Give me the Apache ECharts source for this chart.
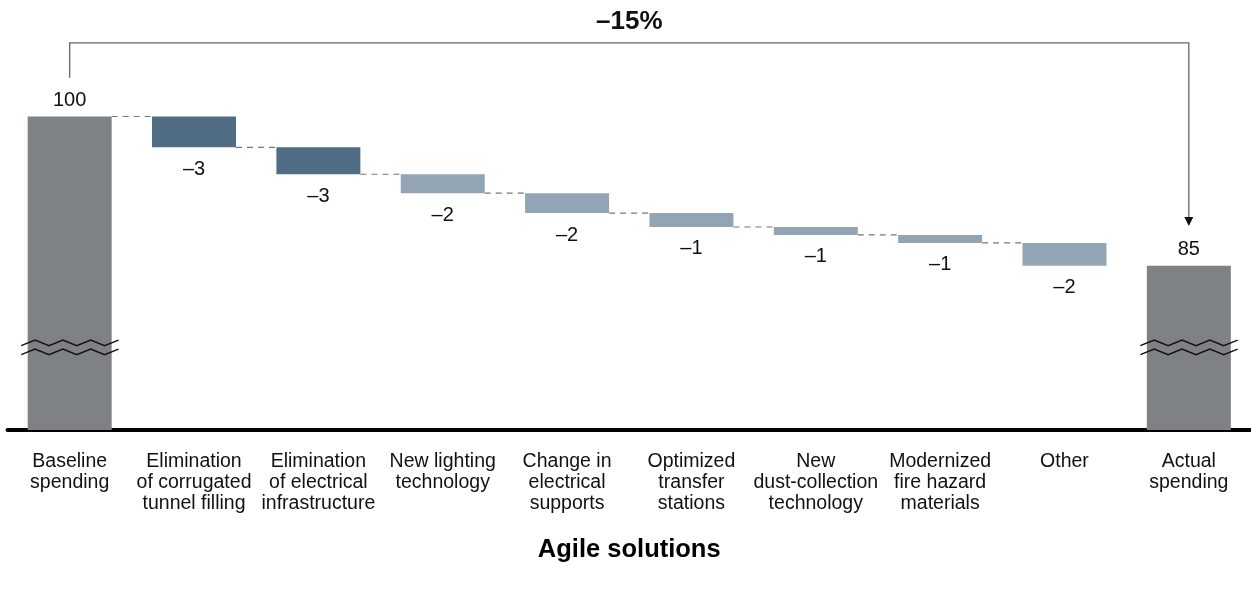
<!DOCTYPE html>
<html>
<head>
<meta charset="utf-8">
<script src="https://cdn.jsdelivr.net/npm/echarts@6/dist/echarts.min.js"></script>
<style>body{margin:0;background:#fff;}</style>
</head>
<body>
<div id="main" style="width:1251px;height:590px;"></div>
<script>
	// 数据
	var categories = [
		'Baseline\nspending',
		'Elimination\nof corrugated\ntunnel filling',
		'Elimination\nof electrical\ninfrastructure',
		'New lighting\ntechnology',
		'Change in\nelectrical\nsupports',
		'Optimized\ntransfer\nstations',
		'New\ndust-collection\ntechnology',
		'Modernized\nfire hazard\nmaterials',
		'Other',
		'Actual\nspending'
	];
	var baseline = 100;
	var actual = 85;
	var drops = [3.1, 2.7, 1.9, 2.0, 1.4, 0.8, 0.8, 2.3];
	var dropLabels = ['–3', '–3', '–2', '–2', '–1', '–1', '–1', '–2'];
	var totalLabel = '–15%';
	var axisName = 'Agile solutions';

	var myChart = echarts.init(document.getElementById('main'));
	var font = 'Liberation Sans, Arial, sans-serif';

	// 瀑布图：透明底座 + 可见部分
	var helper = [0];
	var visible = [{value: baseline, itemStyle: {color: '#7f8285'}, label: {position: 'top', distance: 6, formatter: String(baseline)}}];
	var levels = [[0, baseline]];
	var level = baseline;
	for (var i = 0; i < drops.length; i++) {
		level = Math.round((level - drops[i]) * 100) / 100;
		helper.push(level);
		visible.push({
			value: drops[i],
			itemStyle: {color: i < 2 ? '#516d85' : '#93a5b5'},
			label: {position: 'bottom', distance: 12, formatter: dropLabels[i]}
		});
		levels.push([i + 1, level]);
	}
	helper.push(0);
	visible.push({value: actual, itemStyle: {color: '#7f8285'}, label: {position: 'top', distance: 6, formatter: String(actual)}});

	var halfBar = 42;

	myChart.setOption({
		animation: false,
		textStyle: {fontFamily: font},
		grid: {left: 7.5, width: 1251, top: 17, bottom: 160},
		xAxis: {
			type: 'category',
			data: categories,
			axisLine: {lineStyle: {color: '#000', width: 4}},
			axisTick: {show: false},
			axisLabel: {color: '#111', fontSize: 19.5, lineHeight: 21, margin: 21, interval: 0},
			name: axisName,
			nameLocation: 'middle',
			nameGap: 107,
			nameTextStyle: {color: '#000', fontSize: 25.5, fontWeight: 'bold'}
		},
		yAxis: {type: 'value', min: 68.5, max: 110, show: false, splitLine: {show: false}},
		series: [
			{
				type: 'bar', stack: 'w', barWidth: 84,
				itemStyle: {color: 'transparent'},
				data: helper
			},
			{
				type: 'bar', stack: 'w', barWidth: 84,
				label: {show: true, color: '#111', fontSize: 20, lineHeight: 20},
				data: visible
			},
			{
				type: 'custom',
				data: levels.slice(0, levels.length - 1),
				encode: {x: 0, y: 1},
				renderItem: function (params, api) {
					var idx = api.value(0), v = api.value(1);
					var p1 = api.coord([idx, v]);
					var p2 = api.coord([idx + 1, v]);
					return {
						type: 'line',
						shape: {x1: p1[0] + halfBar, y1: p1[1], x2: p2[0] - halfBar, y2: p2[1]},
						style: {stroke: '#777', lineWidth: 1.2, lineDash: [6, 5]}
					};
				}
			}
		]
	});

	// 注释：括号箭头、断轴符号
	function px(x, y) {
		return myChart.convertToPixel({gridIndex: 0}, [x, y]);
	}
	var last = categories.length - 1;
	var pStart = px(0, 103.9);
	var pTop = px(0, 107.4);
	var pEndTop = px(last, 107.4);
	var pTip = px(last, 89.0);
	var graphics = [
		{
			type: 'polyline', z: 100,
			shape: {points: [[pStart[0], pStart[1]], [pTop[0], pTop[1]], [pEndTop[0], pEndTop[1]], [pTip[0], pTip[1] - 8]]},
			style: {stroke: '#666', lineWidth: 1.3, fill: null}
		},
		{
			type: 'polygon', z: 100,
			shape: {points: [[pTip[0] - 4.5, pTip[1] - 9], [pTip[0] + 4.5, pTip[1] - 9], [pTip[0], pTip[1]]]},
			style: {fill: '#111'}
		},
		{
			type: 'text', z: 100,
			x: (pTop[0] + pEndTop[0]) / 2,
			y: pTop[1] - 21,
			style: {text: totalLabel, fontSize: 26, fontWeight: 'bold', fill: '#111', align: 'center', verticalAlign: 'middle', fontFamily: font}
		}
	];
	[0, last].forEach(function (c) {
		var p = px(c, 76.8);
		[-4.5, 4.5].forEach(function (off) {
			var pts = [];
			for (var k = 0; k < 8; k++) {
				pts.push([p[0] - 48.5 + k * 13.9, p[1] + off + (k % 2 === 0 ? 2.8 : -2.8)]);
			}
			graphics.push({type: 'polyline', z: 100, shape: {points: pts}, style: {stroke: '#111', lineWidth: 1.4, fill: null}});
		});
	});
	myChart.setOption({graphic: graphics});
</script>
</body>
</html>
